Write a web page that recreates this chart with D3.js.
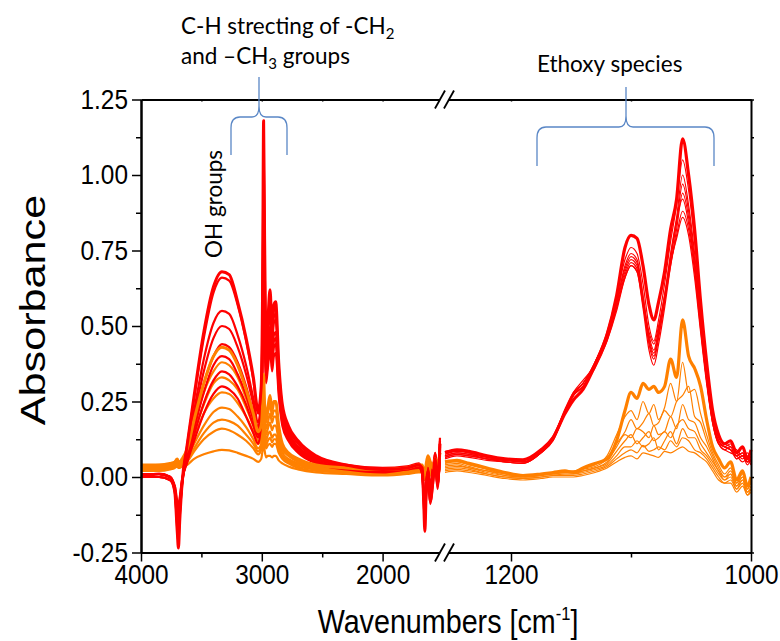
<!DOCTYPE html>
<html><head><meta charset="utf-8">
<script src="https://cdn.jsdelivr.net/npm/d3@7"></script>
<style>body{margin:0;background:#fff}svg{display:block}</style>
</head><body><svg id="c" width="780" height="641"></svg>
<script>
// wavenumber grids (cm-1)
const leftWn = [4000,3850,3760,3720,3700,3690,3680,3660,3620,3560,3480,3400,3330,3270,3200,3130,3070,3030,3005,2993,2985,2977,2965,2950,2932,2915,2900,2885,2860,2830,2780,2700,2550,2300,2000,1800,1700,1672,1660,1650,1640,1625,1605,1585,1565,1545,1525];
const rightWn = [1255,1245,1235,1220,1205,1190,1175,1165,1155,1148,1140,1130,1120,1112,1105,1100,1095,1090,1085,1081,1077,1072,1067,1062,1057,1052,1047,1042,1037,1032,1027,1022,1017,1012,1007,1003,1000];

// red series (absorbance)
const red1Left = [0.00,0.01,0.00,-0.05,-0.18,-0.235,-0.15,-0.02,0.10,0.27,0.48,0.63,0.68,0.67,0.58,0.46,0.33,0.22,0.30,0.65,1.18,0.80,0.46,0.52,0.62,0.50,0.57,0.58,0.38,0.24,0.17,0.12,0.07,0.04,0.025,0.03,0.04,0.03,-0.08,-0.18,-0.06,0.02,-0.08,-0.02,0.06,-0.02,0.11];
const red2Left = [0.01,0.01,0.00,-0.05,-0.17,-0.22,-0.14,-0.02,0.10,0.26,0.46,0.61,0.66,0.65,0.57,0.45,0.32,0.21,0.29,0.62,1.12,0.76,0.44,0.50,0.60,0.49,0.55,0.56,0.37,0.23,0.16,0.11,0.065,0.04,0.03,0.035,0.045,0.02,-0.07,-0.16,-0.05,0.03,-0.06,0.00,0.08,0.01,0.13];
const red3Left = [0.00,0.00,-0.01,-0.05,-0.16,-0.20,-0.13,-0.03,0.08,0.22,0.39,0.51,0.55,0.54,0.47,0.37,0.26,0.18,0.27,0.58,1.04,0.70,0.42,0.48,0.57,0.47,0.53,0.54,0.35,0.22,0.15,0.10,0.06,0.035,0.02,0.03,0.04,0.01,-0.08,-0.15,-0.07,0.00,-0.09,-0.03,0.04,-0.04,0.09];
const red4Left = [0.00,0.01,0.00,-0.04,-0.15,-0.19,-0.12,-0.02,0.075,0.20,0.35,0.46,0.50,0.49,0.43,0.34,0.24,0.165,0.25,0.55,0.98,0.66,0.40,0.46,0.55,0.45,0.51,0.52,0.34,0.21,0.145,0.10,0.06,0.035,0.025,0.03,0.035,0.02,-0.06,-0.14,-0.05,0.02,-0.05,0.01,0.07,0.00,0.10];
const red5Left = [0.01,0.01,0.00,-0.04,-0.14,-0.17,-0.11,-0.02,0.065,0.18,0.31,0.40,0.44,0.43,0.38,0.30,0.21,0.15,0.23,0.50,0.92,0.62,0.37,0.42,0.50,0.41,0.47,0.48,0.32,0.20,0.14,0.095,0.055,0.03,0.02,0.03,0.04,0.02,-0.05,-0.12,-0.04,0.03,-0.04,0.02,0.08,0.02,0.12];
const red6Left = [0.00,0.00,-0.01,-0.04,-0.12,-0.15,-0.10,-0.02,0.06,0.16,0.28,0.37,0.40,0.39,0.34,0.27,0.19,0.14,0.21,0.47,0.85,0.58,0.35,0.40,0.47,0.39,0.45,0.46,0.30,0.19,0.13,0.09,0.05,0.03,0.02,0.025,0.035,0.01,-0.06,-0.11,-0.05,0.01,-0.07,-0.02,0.05,-0.03,0.08];
const red7Left = [0.01,0.01,0.00,-0.03,-0.10,-0.12,-0.08,-0.01,0.05,0.14,0.245,0.32,0.35,0.34,0.30,0.24,0.17,0.13,0.20,0.44,0.78,0.54,0.33,0.38,0.45,0.37,0.43,0.44,0.29,0.18,0.125,0.085,0.05,0.03,0.02,0.03,0.035,0.02,-0.04,-0.10,-0.03,0.02,-0.03,0.03,0.06,0.01,0.10];
const red8Left = [0.00,0.00,-0.01,-0.03,-0.08,-0.10,-0.07,-0.01,0.045,0.12,0.21,0.275,0.30,0.29,0.26,0.20,0.145,0.11,0.18,0.40,0.70,0.50,0.31,0.36,0.42,0.35,0.40,0.41,0.27,0.17,0.12,0.08,0.045,0.025,0.015,0.025,0.03,0.01,-0.05,-0.09,-0.04,0.00,-0.05,0.00,0.04,-0.02,0.07];

const red1Right = [0.08,0.09,0.085,0.07,0.06,0.057,0.09,0.13,0.21,0.255,0.29,0.37,0.47,0.60,0.76,0.80,0.79,0.70,0.57,0.52,0.58,0.68,0.82,0.92,1.12,1.00,0.82,0.58,0.38,0.22,0.14,0.11,0.12,0.08,0.10,0.06,0.09];
const red2Right = [0.085,0.09,0.08,0.07,0.06,0.055,0.09,0.135,0.22,0.27,0.30,0.38,0.48,0.60,0.72,0.76,0.74,0.64,0.50,0.45,0.52,0.64,0.78,0.90,1.05,0.95,0.78,0.56,0.36,0.21,0.13,0.11,0.10,0.09,0.07,0.08,0.06];
const red3Right = [0.075,0.085,0.08,0.065,0.055,0.05,0.085,0.13,0.22,0.275,0.31,0.38,0.47,0.58,0.70,0.74,0.72,0.60,0.46,0.41,0.48,0.60,0.74,0.86,1.00,0.90,0.74,0.54,0.35,0.20,0.12,0.10,0.11,0.07,0.08,0.05,0.07];
const red4Right = [0.07,0.08,0.075,0.06,0.055,0.05,0.08,0.125,0.215,0.27,0.31,0.37,0.46,0.57,0.68,0.72,0.70,0.58,0.44,0.39,0.46,0.58,0.72,0.84,0.97,0.88,0.72,0.52,0.33,0.19,0.12,0.10,0.09,0.08,0.06,0.07,0.05];
const red5Right = [0.065,0.075,0.07,0.06,0.05,0.045,0.08,0.125,0.22,0.28,0.32,0.37,0.45,0.56,0.66,0.70,0.68,0.56,0.42,0.37,0.44,0.56,0.70,0.82,0.94,0.86,0.70,0.50,0.32,0.18,0.11,0.09,0.10,0.06,0.07,0.04,0.06];
const red6Right = [0.07,0.08,0.075,0.065,0.055,0.05,0.085,0.13,0.225,0.28,0.31,0.38,0.47,0.58,0.69,0.73,0.71,0.60,0.47,0.42,0.49,0.60,0.73,0.85,0.92,0.84,0.70,0.51,0.33,0.19,0.12,0.10,0.09,0.07,0.08,0.05,0.06];
const red7Right = [0.06,0.07,0.065,0.055,0.05,0.045,0.08,0.12,0.21,0.27,0.30,0.36,0.45,0.55,0.66,0.70,0.68,0.57,0.45,0.40,0.47,0.58,0.70,0.80,0.88,0.82,0.68,0.49,0.32,0.18,0.11,0.09,0.08,0.07,0.05,0.06,0.04];
const red8Right = [0.065,0.075,0.07,0.06,0.05,0.045,0.08,0.12,0.215,0.27,0.30,0.37,0.46,0.56,0.67,0.71,0.69,0.58,0.48,0.44,0.50,0.60,0.71,0.79,0.86,0.80,0.66,0.48,0.31,0.18,0.11,0.10,0.09,0.06,0.07,0.05,0.05];

// orange series (absorbance)
const orange1Left = [0.04,0.04,0.045,0.05,0.06,0.05,0.05,0.06,0.09,0.19,0.31,0.40,0.43,0.42,0.37,0.29,0.21,0.15,0.17,0.24,0.34,0.24,0.20,0.23,0.27,0.22,0.25,0.25,0.17,0.11,0.08,0.06,0.04,0.03,0.025,0.03,0.04,0.04,0.02,0.01,0.04,0.07,0.05,0.03,0.06,0.04,0.08];
const orange2Left = [0.035,0.04,0.04,0.045,0.055,0.05,0.045,0.055,0.08,0.17,0.28,0.35,0.38,0.37,0.33,0.26,0.19,0.135,0.155,0.22,0.31,0.22,0.18,0.21,0.24,0.20,0.22,0.22,0.15,0.10,0.075,0.055,0.035,0.025,0.02,0.025,0.035,0.03,0.01,0.00,0.03,0.06,0.04,0.02,0.05,0.03,0.07];
const orange3Left = [0.04,0.035,0.04,0.05,0.06,0.05,0.05,0.05,0.075,0.15,0.24,0.31,0.33,0.32,0.29,0.23,0.17,0.12,0.14,0.20,0.28,0.20,0.16,0.18,0.21,0.18,0.20,0.20,0.14,0.09,0.07,0.05,0.035,0.025,0.02,0.025,0.035,0.035,0.02,0.01,0.03,0.05,0.03,0.02,0.04,0.02,0.06];
const orange4Left = [0.03,0.035,0.035,0.04,0.05,0.045,0.04,0.05,0.065,0.13,0.21,0.26,0.28,0.275,0.245,0.20,0.15,0.11,0.125,0.18,0.25,0.18,0.14,0.16,0.18,0.155,0.17,0.17,0.12,0.08,0.06,0.045,0.03,0.02,0.015,0.02,0.03,0.03,0.01,0.00,0.02,0.04,0.03,0.01,0.03,0.02,0.05];
const orange5Left = [0.035,0.03,0.035,0.04,0.05,0.04,0.04,0.045,0.06,0.11,0.17,0.215,0.23,0.225,0.20,0.165,0.125,0.095,0.11,0.16,0.22,0.16,0.12,0.14,0.15,0.13,0.14,0.14,0.10,0.07,0.055,0.04,0.03,0.02,0.015,0.02,0.03,0.03,0.015,0.005,0.02,0.035,0.02,0.01,0.03,0.015,0.045];
const orange6Left = [0.03,0.03,0.03,0.035,0.045,0.04,0.035,0.04,0.055,0.095,0.145,0.18,0.19,0.185,0.17,0.14,0.11,0.085,0.10,0.14,0.19,0.14,0.105,0.12,0.13,0.115,0.125,0.125,0.09,0.065,0.05,0.035,0.025,0.015,0.01,0.015,0.025,0.025,0.01,0.00,0.015,0.03,0.02,0.005,0.025,0.01,0.04];
const orange7Left = [0.025,0.025,0.03,0.035,0.04,0.035,0.035,0.04,0.05,0.085,0.125,0.15,0.16,0.155,0.14,0.12,0.095,0.075,0.09,0.125,0.17,0.125,0.095,0.105,0.11,0.10,0.11,0.11,0.08,0.06,0.045,0.03,0.02,0.015,0.01,0.015,0.02,0.02,0.005,-0.005,0.01,0.025,0.015,0.00,0.02,0.01,0.035];
const orange8Left = [0.02,0.02,0.025,0.03,0.035,0.03,0.03,0.035,0.04,0.06,0.075,0.085,0.09,0.088,0.08,0.07,0.06,0.05,0.06,0.09,0.12,0.09,0.065,0.07,0.07,0.065,0.07,0.07,0.055,0.045,0.035,0.025,0.015,0.01,0.005,0.01,0.015,0.015,0.00,-0.01,0.005,0.02,0.01,-0.005,0.015,0.005,0.03];

const orange1Right = [0.05,0.055,0.045,0.03,0.015,0.005,0.01,0.015,0.02,0.015,0.03,0.045,0.06,0.12,0.22,0.28,0.26,0.31,0.29,0.30,0.28,0.30,0.39,0.33,0.52,0.40,0.36,0.30,0.19,0.10,0.06,0.03,0.05,-0.01,0.02,-0.03,0.00];
const orange2Right = [0.045,0.05,0.04,0.025,0.01,0.005,0.01,0.015,0.02,0.02,0.03,0.04,0.07,0.14,0.20,0.22,0.19,0.25,0.21,0.24,0.19,0.23,0.31,0.25,0.38,0.28,0.29,0.21,0.14,0.08,0.04,0.01,0.03,-0.02,0.00,-0.04,-0.01];
const orange3Right = [0.04,0.045,0.035,0.02,0.01,0.00,0.01,0.01,0.015,0.015,0.025,0.035,0.06,0.11,0.15,0.19,0.16,0.18,0.21,0.17,0.18,0.22,0.20,0.25,0.27,0.30,0.20,0.18,0.12,0.07,0.03,0.00,0.02,-0.02,0.01,-0.03,-0.02];
const orange4Right = [0.035,0.04,0.03,0.02,0.005,0.00,0.005,0.01,0.015,0.015,0.02,0.03,0.05,0.10,0.14,0.13,0.16,0.15,0.13,0.17,0.14,0.15,0.20,0.16,0.24,0.19,0.18,0.13,0.10,0.06,0.02,0.00,0.01,-0.03,0.00,-0.04,-0.02];
const orange5Right = [0.03,0.035,0.03,0.015,0.005,0.00,0.005,0.01,0.01,0.01,0.02,0.03,0.045,0.085,0.12,0.14,0.11,0.13,0.15,0.12,0.13,0.15,0.13,0.17,0.19,0.16,0.15,0.11,0.08,0.05,0.02,-0.01,0.01,-0.03,-0.01,-0.05,-0.03];
const orange6Right = [0.025,0.03,0.025,0.01,0.00,-0.005,0.00,0.005,0.01,0.01,0.015,0.025,0.04,0.07,0.10,0.10,0.12,0.10,0.11,0.13,0.09,0.12,0.15,0.11,0.16,0.13,0.13,0.09,0.07,0.04,0.01,-0.01,0.00,-0.04,-0.01,-0.05,-0.04];
const orange7Right = [0.02,0.025,0.02,0.01,0.00,-0.005,0.00,0.005,0.005,0.005,0.01,0.02,0.035,0.06,0.08,0.09,0.08,0.105,0.085,0.09,0.10,0.09,0.12,0.10,0.13,0.12,0.09,0.08,0.06,0.03,0.00,-0.02,-0.01,-0.04,-0.02,-0.06,-0.04];
const orange8Right = [0.015,0.02,0.015,0.005,-0.005,-0.01,-0.005,0.00,0.00,0.00,0.005,0.015,0.03,0.05,0.065,0.07,0.06,0.08,0.075,0.07,0.065,0.085,0.08,0.09,0.10,0.085,0.08,0.065,0.05,0.02,-0.01,-0.02,-0.02,-0.05,-0.03,-0.06,-0.05];

// ticks
const yMajorTicks = [-0.25,0,0.25,0.5,0.75,1,1.25];
const yMinorTicks = [-0.125,0.125,0.375,0.625,0.875,1.125];
const xLeftMajor = [4000,3000,2000];
const xLeftMinor = [3500,2500];
const xRightMajor = [1200,1000];
const xRightMinor = [1100];

const svg = d3.select('#c');
const xL = d3.scaleLinear().domain([4000,1500]).range([141,443]);
const xR = d3.scaleLinear().domain([1255,1000]).range([445,751]);
const y = d3.scaleLinear().domain([-0.25,1.25]).range([552.5,99.5]);

const series = [
  {c:'#FF8000', L:orange8Left, R:orange8Right, w:0},
  {c:'#FF8000', L:orange7Left, R:orange7Right, w:0},
  {c:'#FF8000', L:orange6Left, R:orange6Right, w:0},
  {c:'#FF8000', L:orange5Left, R:orange5Right, w:0},
  {c:'#FF8000', L:orange4Left, R:orange4Right, w:0},
  {c:'#FF8000', L:orange3Left, R:orange3Right, w:0},
  {c:'#FF8000', L:orange2Left, R:orange2Right, w:0},
  {c:'#FF0000', L:red8Left, R:red8Right, w:0},
  {c:'#FF0000', L:red7Left, R:red7Right, w:0},
  {c:'#FF0000', L:red6Left, R:red6Right, w:0},
  {c:'#FF0000', L:red5Left, R:red5Right, w:0},
  {c:'#FF0000', L:red4Left, R:red4Right, w:0},
  {c:'#FF0000', L:red3Left, R:red3Right, w:0},
  {c:'#FF0000', L:red2Left, R:red2Right, w:0},
  {c:'#FF8000', L:orange1Left, R:orange1Right, w:1},
  {c:'#FF0000', L:red1Left, R:red1Right, w:1}
];

const lineL = d3.line().x(d=>xL(d[0])).y(d=>y(d[1])).curve(d3.curveMonotoneX);
const lineR = d3.line().x(d=>xR(d[0])).y(d=>y(d[1])).curve(d3.curveMonotoneX);
const gL = svg.append('g'), gR = svg.append('g');
series.forEach(s=>{
  const pl = d3.zip(leftWn, s.L);
  const pr = d3.zip(rightWn, s.R);
  gL.append('path').attr('d', lineL(pl)).attr('fill','none').attr('stroke',s.c)
    .attr('stroke-width', s.w ? 3 : 2.2).attr('stroke-linejoin','round');
  gR.append('path').attr('d', lineR(pr)).attr('fill','none').attr('stroke',s.c)
    .attr('stroke-width', s.w ? 3.2 : 1.2).attr('stroke-linejoin','round');
});

// axes
const tickFont = "'Liberation Sans',Arial,sans-serif";
function styleAxis(g){
  g.selectAll('path.domain').attr('stroke','#000').attr('stroke-width',2);
  g.selectAll('line').attr('stroke','#000').attr('stroke-width',1.5);
  g.selectAll('text').attr('fill','#000').style('font-family',tickFont).style('font-size','28px')
    .attr('transform','scale(0.87,1)');
  return g;
}
const fmt = d => d.toFixed(2);
styleAxis(svg.append('g').attr('transform','translate(141,0)')
  .call(d3.axisLeft(y).tickValues(yMajorTicks).tickSize(9).tickSizeOuter(0).tickPadding(6).tickFormat(fmt)));
styleAxis(svg.append('g').attr('transform','translate(141,0)')
  .call(d3.axisLeft(y).tickValues(yMinorTicks).tickSize(5).tickSizeOuter(0).tickFormat('')));
styleAxis(svg.append('g').attr('transform','translate(751,0)')
  .call(d3.axisRight(y).tickValues(yMajorTicks.concat(yMinorTicks)).tickSize(3).tickSizeOuter(0).tickFormat('')));
// bottom
styleAxis(svg.append('g').attr('transform','translate(0,552.5)')
  .call(d3.axisBottom(xL).tickValues(xLeftMajor).tickSize(9).tickSizeOuter(0).tickPadding(3).tickFormat(d3.format('d'))));
styleAxis(svg.append('g').attr('transform','translate(0,552.5)')
  .call(d3.axisBottom(xL).tickValues(xLeftMinor).tickSize(5).tickSizeOuter(0).tickFormat('')));
styleAxis(svg.append('g').attr('transform','translate(0,552.5)')
  .call(d3.axisBottom(xR).tickValues(xRightMajor).tickSize(9).tickSizeOuter(0).tickPadding(3).tickFormat(d3.format('d'))));
styleAxis(svg.append('g').attr('transform','translate(0,552.5)')
  .call(d3.axisBottom(xR).tickValues(xRightMinor).tickSize(5).tickSizeOuter(0).tickFormat('')));
// top
styleAxis(svg.append('g').attr('transform','translate(0,99.5)')
  .call(d3.axisBottom(xL).tickValues(xLeftMajor.concat(xLeftMinor)).tickSize(2).tickSizeOuter(0).tickFormat('')));
styleAxis(svg.append('g').attr('transform','translate(0,99.5)')
  .call(d3.axisBottom(xR).tickValues(xRightMajor.concat(xRightMinor)).tickSize(2).tickSizeOuter(0).tickFormat('')));

// break marks
[99.5, 552.5].forEach(yy=>{
  svg.append('rect').attr('x',440).attr('y',yy-3).attr('width',9).attr('height',6).attr('fill','#fff');
  [440, 449].forEach(cx=>{
    svg.append('line').attr('x1',cx-5).attr('y1',yy+9).attr('x2',cx+5).attr('y2',yy-9)
      .attr('stroke','#000').attr('stroke-width',1.8);
  });
});

// axis titles
svg.append('text').attr('transform','translate(45,310) rotate(-90) scale(1.2,1)').attr('text-anchor','middle')
  .style('font-family',tickFont).style('font-size','36px').text('Absorbance');
const xt = svg.append('text').attr('transform','translate(448,633) scale(0.87,1)').attr('text-anchor','middle')
  .style('font-family',tickFont).style('font-size','33px');
xt.append('tspan').text('Wavenumbers [cm');
xt.append('tspan').attr('dy',-13).style('font-size','19px').text('-1');
xt.append('tspan').attr('dy',13).text(']');

// annotations
const annFont = "Lato,'Open Sans',sans-serif";
const blue = '#5a87c6';
function brace(x0, x1, xc, yEnd, yMid, yTip){
  const r = 7;
  const p = d3.path();
  p.moveTo(x0, yEnd); p.lineTo(x0, yMid + r + 4);
  p.quadraticCurveTo(x0, yMid, x0 + r + 2, yMid);
  p.lineTo(xc - r, yMid);
  p.quadraticCurveTo(xc, yMid, xc, yMid - r - 4);
  p.lineTo(xc, yTip);
  p.moveTo(xc, yMid - r - 4);
  p.quadraticCurveTo(xc, yMid, xc + r, yMid);
  p.lineTo(x1 - r - 2, yMid);
  p.quadraticCurveTo(x1, yMid, x1, yMid + r + 4);
  p.lineTo(x1, yEnd);
  svg.append('path').attr('d', p.toString()).attr('fill','none').attr('stroke',blue).attr('stroke-width',1.3);
}
brace(231, 287, 259, 155, 117, 77);
brace(537, 714, 626, 166, 127, 87);

const t1 = svg.append('text').attr('x',181).attr('y',34).style('font-family',annFont).style('font-size','22.5px');
t1.append('tspan').text('C-H strecting of -CH');
t1.append('tspan').attr('dy',5).style('font-size','15px').text('2');
const t2 = svg.append('text').attr('x',181).attr('y',64).style('font-family',annFont).style('font-size','22.5px');
t2.append('tspan').text('and \u2013CH');
t2.append('tspan').attr('dy',5).style('font-size','15px').text('3');
t2.append('tspan').attr('dy',-5).text(' groups');
svg.append('text').attr('x',537).attr('y',72).style('font-family',annFont).style('font-size','22.5px').text('Ethoxy species');
svg.append('text').attr('transform','translate(222,258) rotate(-90)').style('font-family',annFont).style('font-size','22.5px').text('OH groups');
</script></body></html>
